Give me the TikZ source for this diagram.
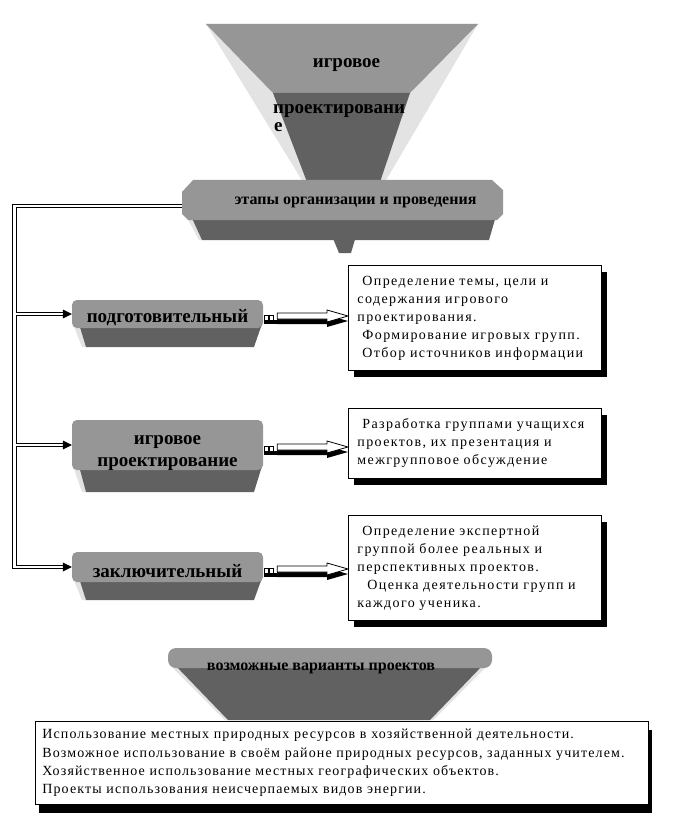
\documentclass[tikz,border=0pt]{standalone}
\usepackage{fontspec}
\setmainfont{Liberation Serif}
\newfontfamily\bodyf[LetterSpace=8]{Liberation Serif}
\newfontfamily\boxf[LetterSpace=10]{Liberation Serif}
\newfontfamily\headf{Liberation Serif}
\usetikzlibrary{calc,shadows}
\definecolor{midg}{gray}{0.59}
\definecolor{darkg}{gray}{0.38}
\definecolor{lightg}{gray}{0.89}
\newcommand\stageshape[3]{%
  \fill[lightg] (73,#2-4) -- (81,#2-4) -- (86,#3) -- (82,#3) -- cycle;
  \fill[darkg] (79,#2-4) -- (262,#2-4) -- (254,#3) -- (86,#3) -- cycle;
  \fill[midg, rounded corners=5pt] (72,#1) rectangle (263,#2);
}
\newcommand\dn[2]{\raisebox{-#1}[\height][\depth]{#2}}
\newcommand\garrow[2]{%
  \coordinate (ga) at (#1.east);
  \coordinate (gt) at (#2.west |- #1.east);
  \fill[black] ($(ga)+(14,4)$) -- ($(gt)+(-21,4)$) -- ($(gt)+(-21,1)$) -- ($(gt)+(0,7)$) -- ($(gt)+(-21,13)$) -- ($(gt)+(-21,10)$) -- ($(ga)+(14,10)$) -- cycle;
  \filldraw[fill=white, draw=black, line width=0.8pt] ($(ga)+(14,-1)$) -- ($(gt)+(-21,-1)$) -- ($(gt)+(-21,-4)$) -- ($(gt)+(0,2)$) -- ($(gt)+(-21,8)$) -- ($(gt)+(-21,5)$) -- ($(ga)+(14,5)$) -- cycle;
  \draw[line width=0.8pt] ($(ga)+(1,1)$) rectangle ($(ga)+(5,6)$) ($(ga)+(6,1)$) rectangle ($(ga)+(10,6)$);
  \fill[black] ($(ga)+(1,6)$) rectangle ($(ga)+(14,10)$);
}
\begin{document}
\begin{tikzpicture}[x=1pt,y=-1pt,
  headtxt/.style={font=\headf\bfseries\fontsize{19}{22}\selectfont, inner sep=0pt},
  bartxt/.style={font=\headf\bfseries\fontsize{16}{18}\selectfont, inner sep=0pt},
  tbox/.style={draw=black, line width=0.8pt, fill=white, anchor=north west, inner xsep=9pt, inner ysep=0pt, align=left, text width=235pt, font=\boxf\fontsize{14}{18}\selectfont},
  shadowA/.style={drop shadow={shadow xshift=6pt, shadow yshift=-7pt, fill=black, opacity=1}},
  shadowB/.style={drop shadow={shadow xshift=4pt, shadow yshift=-9pt, fill=black, opacity=1}},
  dbl/.style={draw=black, line width=0.9pt, double=white, double distance=2.3pt}]
\useasboundingbox (0,0) rectangle (685,829);

% top funnel
\fill[lightg] (206,24) -- (478,24) -- (385,182) -- (303,182) -- cycle;
\fill[midg] (206,24) -- (478,24) -- (410,93) -- (273,93) -- cycle;
\fill[darkg] (273,93) -- (410,93) -- (380,182) -- (307,182) -- cycle;
\node[headtxt] (f1) at (346.5,65) {игровое};
\node[headtxt, anchor=base west] (f2) at (273,114) {проектировани};
\node[headtxt, anchor=base west] (f3) at (274,132) {е};

% bar
\fill[darkg] (332,236) -- (356,236) -- (351,253) -- (339,253) -- cycle;
\fill[lightg] (186,216) -- (195,216) -- (203,240) -- (199,240) -- cycle;
\fill[darkg] (191,216) -- (496,216) -- (489,240) -- (202,240) -- cycle;
\fill[midg] (193,180) -- (492,180) -- (503,190) -- (503,214) -- (497,220) -- (188,220) -- (182,214) -- (182,192) -- cycle;
\node[bartxt, minimum width=321, minimum height=40] (bar) at (342.5,200) {\dn{2pt}{\hspace*{26pt}этапы организации и проведения}};

% stages
\stageshape{300}{328}{347}
\stageshape{420}{470}{492}
\stageshape{552}{582}{600}
\node[headtxt, minimum width=191, minimum height=28] (s1) at (167.5,314) {\dn{4pt}{подготовительный}};
\node[headtxt, minimum width=191, minimum height=50] (s2) at (167.5,445) {\dn{6pt}{\begin{tabular}{@{}c@{}}игровое\\проектирование\end{tabular}}};
\node[headtxt, minimum width=191, minimum height=30] (s3) at (167.5,567) {\dn{4pt}{заключительный}};

% text boxes
\node[tbox, shadowA, minimum height=105] (t1) at (348,265) {\mbox{\hspace*{5pt}Определение темы, цели и}\\\mbox{содержания игрового}\\\mbox{проектирования.}\\\mbox{\hspace*{5pt}Формирование игровых групп.}\\\mbox{\hspace*{5pt}Отбор источников информации}};
\node[tbox, shadowA, minimum height=70] (t2) at (348,408) {\mbox{\hspace*{5pt}Разработка группами учащихся}\\\mbox{проектов, их презентация и}\\\mbox{межгрупповое обсуждение}};
\node[tbox, shadowA, minimum height=105] (t3) at (348,515) {\mbox{\hspace*{5pt}Определение экспертной}\\\mbox{группой более реальных и}\\\mbox{перспективных проектов.}\\\mbox{\hspace*{10pt}Оценка деятельности групп и}\\\mbox{каждого ученика.}};

% bottom trapezoid
\fill[lightg] (169,664) -- (489,664) -- (433,720) -- (225,720) -- cycle;
\fill[darkg] (174,664) -- (484,664) -- (430,720) -- (228,720) -- cycle;
\fill[midg, rounded corners=8pt] (168,648) rectangle (492,668);
\node[bartxt] (vb) at (321,668) {возможные варианты проектов};

\node[tbox, shadowB, text width=599pt, inner xsep=7pt, minimum height=83, font=\bodyf\fontsize{14}{18.3}\selectfont] (t4) at (35,721) {\mbox{Использование местных природных ресурсов в хозяйственной деятельности.}\\\mbox{Возможное использование в своём районе природных ресурсов, заданных учителем.}\\\mbox{Хозяйственное использование местных географических объектов.}\\\mbox{Проекты использования неисчерпаемых видов энергии.}};

% connectors
\coordinate (tt) at (14.5,206);
\draw[dbl] (bar.west |- tt) -- (tt) -- (tt |- s3.west) -- ($(s3.west)+(-8,0)$)
  (tt |- s1.west) -- ($(s1.west)+(-8,0)$)
  (tt |- s2.west) -- ($(s2.west)+(-8,0)$);
\foreach \s in {s1,s2,s3} \fill[black] (\s.west) -- ++(-9,-4.5) -- ++(0,9) -- cycle;
\garrow{s1}{t1}
\garrow{s2}{t2}
\garrow{s3}{t3}
\end{tikzpicture}
\end{document}
